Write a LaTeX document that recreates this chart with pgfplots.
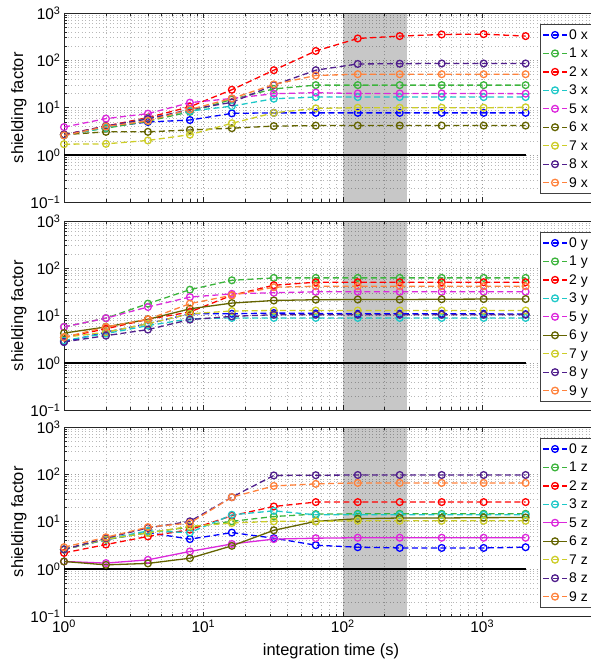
\documentclass[border=0pt]{standalone}
\usepackage{fontspec}
\setmainfont{Liberation Sans}
\usepackage{pgfplots}
\pgfplotsset{compat=1.18}
\definecolor{c0}{RGB}{0,0,255}
\definecolor{c1}{RGB}{60,180,60}
\definecolor{c2}{RGB}{255,0,0}
\definecolor{c3}{RGB}{30,200,200}
\definecolor{c5}{RGB}{220,40,220}
\definecolor{c6}{RGB}{100,100,0}
\definecolor{c7}{RGB}{205,205,40}
\definecolor{c8}{RGB}{80,30,140}
\definecolor{c9}{RGB}{255,130,60}
\newcommand{\tp}[1]{10\textsuperscript{#1}}
\pgfplotsset{
  legend image code/.code={\draw[mark repeat=2, mark phase=2, #1] plot coordinates {(0bp,0bp) (12bp,0bp) (24bp,0bp)};},
  dsh/.style={line width=1.3bp, mark size=3.4bp, dash pattern=on 6bp off 3.5bp, mark=o, mark options={solid}},
  sld/.style={line width=1.3bp, mark size=3.4bp, solid, mark=o, mark options={solid}},
  every axis/.append style={
    scale only axis, width=534bp, height=189.5bp,
    xmin=1, xmax=6772, ymin=0.1, ymax=1000,
    xtick={1,10,100,1000}, ytick={0.1,1,10,100,1000},
    yticklabels={\tp{−1},\tp{0},\tp{1},\tp{2},\tp{3}},
    grid=both,
    major grid style={black!38, line width=0.6bp, dash pattern=on 1bp off 2.5bp},
    minor grid style={black!28, line width=0.6bp, dash pattern=on 1bp off 2.5bp},
    tick align=inside,
    major tick length=5bp, minor tick length=3bp,
    axis line style={black!85, line width=0.9bp},
    tick style={black!85, line width=0.6bp},
    tick label style={font=\fontsize{15.5}{16}\selectfont},
    label style={font=\fontsize{16.5}{18}\selectfont},
    ylabel={shielding factor},
    ylabel style={at={(axis description cs:-0.0843,0.5)}, anchor=center},
    legend style={at={(axis description cs:0.8914,0.944)}, anchor=north west,
      draw=black!75, line width=0.7bp, fill=white,
      font=\fontsize{14}{15}\selectfont, cells={anchor=west},
      inner xsep=2bp, inner ysep=4bp, row sep=4.46bp, column sep=0bp,
      nodes={inner sep=1.5bp, text height=10bp, text depth=1bp}},
  },
}
\begin{document}
\begin{tikzpicture}[x=1bp,y=1bp]
\path[use as bounding box] (0,0) rectangle (591,661);
\clip (0,0) rectangle (591,661);
% ---------------- top panel (x)
\begin{loglogaxis}[at={(64bp,458.5bp)}, anchor=south west, xticklabels={}]
\addplot[fill=black, fill opacity=0.22, draw=none, forget plot] coordinates {(100,0.1) (100,1000) (290,1000) (290,0.1)};
\addplot[black, line width=1.5bp, forget plot] coordinates {(1,1) (2048,1)};
\addplot[c0, dsh] coordinates {(1,2.7) (2,3.9) (4,5.0) (8,5.5) (16,7.6) (32,7.8) (64,7.8) (128,7.8) (256,7.8) (512,7.8) (1024,7.8) (2048,7.8)};
\addplot[c1, dsh] coordinates {(1,2.7) (2,3.7) (4,5.2) (8,8.2) (16,15) (32,25) (64,30) (128,30) (256,30) (512,30) (1024,30) (2048,30)};
\addplot[c2, dsh] coordinates {(1,2.7) (2,4.1) (4,6.2) (8,10.5) (16,24) (32,62) (64,158) (128,290) (256,325) (512,352) (1024,358) (2048,325)};
\addplot[c3, dsh] coordinates {(1,2.6) (2,3.8) (4,6.0) (8,8.5) (16,10.8) (32,15.5) (64,16.8) (128,16.8) (256,16.8) (512,16.8) (1024,16.8) (2048,16.8)};
\addplot[c5, dsh] coordinates {(1,3.9) (2,5.9) (4,7.5) (8,12.8) (16,15.7) (32,19.8) (64,20.8) (128,20) (256,20) (512,20) (1024,20) (2048,19.8)};
\addplot[c6, dsh] coordinates {(1,2.7) (2,3.1) (4,3.1) (8,3.4) (16,3.7) (32,4.1) (64,4.2) (128,4.2) (256,4.2) (512,4.2) (1024,4.2) (2048,4.2)};
\addplot[c7, dsh] coordinates {(1,1.7) (2,1.73) (4,2.04) (8,2.7) (16,4.7) (32,7.8) (64,9.7) (128,10) (256,10) (512,10) (1024,10) (2048,10.2)};
\addplot[c8, dsh] coordinates {(1,2.7) (2,4.1) (4,5.8) (8,9.2) (16,13) (32,30) (64,62) (128,84) (256,85) (512,86) (1024,86) (2048,86)};
\addplot[c9, dsh] coordinates {(1,2.6) (2,4.0) (4,5.3) (8,9.2) (16,15.7) (32,31) (64,48) (128,51) (256,51) (512,51) (1024,51) (2048,51)};
\legend{0 x,1 x,2 x,3 x,5 x,6 x,7 x,8 x,9 x}
\end{loglogaxis}
% ---------------- middle panel (y)
\begin{loglogaxis}[at={(64bp,250.5bp)}, anchor=south west, xticklabels={}]
\addplot[fill=black, fill opacity=0.22, draw=none, forget plot] coordinates {(100,0.1) (100,1000) (290,1000) (290,0.1)};
\addplot[black, line width=1.5bp, forget plot] coordinates {(1,1) (2048,1)};
\addplot[c0, dsh] coordinates {(1,2.8) (2,4.5) (4,6.8) (8,11) (16,11) (32,11.4) (64,11.2) (128,11) (256,11) (512,11) (1024,11) (2048,10.8)};
\addplot[c1, dsh] coordinates {(1,5.8) (2,8.9) (4,18) (8,35.5) (16,56) (32,63) (64,63) (128,63) (256,63) (512,63) (1024,63) (2048,63)};
\addplot[c2, dsh] coordinates {(1,3.5) (2,5.3) (4,8.4) (8,12) (16,27) (32,44) (64,51) (128,51) (256,51) (512,51) (1024,51) (2048,51)};
\addplot[c3, dsh] coordinates {(1,3.0) (2,4.2) (4,6.2) (8,8.6) (16,9.0) (32,9.0) (64,9.0) (128,9.0) (256,9.0) (512,9.0) (1024,9.0) (2048,9.0)};
\addplot[c5, dsh] coordinates {(1,5.8) (2,8.9) (4,15.3) (8,24.8) (16,29) (32,30.6) (64,32) (128,32) (256,32) (512,32) (1024,32) (2048,32)};
\addplot[c6, sld] coordinates {(1,4.3) (2,5.8) (4,8.4) (8,14) (16,18.5) (32,21) (64,21.8) (128,22) (256,22) (512,22.3) (1024,22.5) (2048,22.5)};
\addplot[c7, dsh] coordinates {(1,3.5) (2,4.5) (4,6.8) (8,11) (16,12.6) (32,12.9) (64,12.9) (128,12.9) (256,12.9) (512,12.9) (1024,12.9) (2048,12.9)};
\addplot[c8, dsh] coordinates {(1,2.8) (2,3.8) (4,5.1) (8,8.3) (16,9.7) (32,10.5) (64,10.5) (128,10.5) (256,10.5) (512,10.5) (1024,10.5) (2048,10.5)};
\addplot[c9, dsh] coordinates {(1,3.5) (2,5.8) (4,8.4) (8,18) (16,27) (32,40) (64,42) (128,42) (256,42) (512,42) (1024,42) (2048,42)};
\legend{0 y,1 y,2 y,3 y,5 y,6 y,7 y,8 y,9 y}
\end{loglogaxis}
% ---------------- bottom panel (z)
\begin{loglogaxis}[at={(64bp,44.5bp)}, anchor=south west,
  xticklabels={\tp{0},\tp{1},\tp{2},\tp{3}},
  xlabel={integration time (s)},
  xlabel style={at={(axis description cs:0.5,0)}, anchor=base, yshift=-38.5bp}]
\addplot[fill=black, fill opacity=0.22, draw=none, forget plot] coordinates {(100,0.1) (100,1000) (290,1000) (290,0.1)};
\addplot[black, line width=1.5bp, forget plot] coordinates {(1,1) (2048,1)};
\addplot[c0, dsh] coordinates {(1,2.6) (2,4.2) (4,5.9) (8,4.3) (16,5.9) (32,4.5) (64,3.2) (128,2.9) (256,2.8) (512,2.8) (1024,2.8) (2048,2.9)};
\addplot[c1, dsh] coordinates {(1,2.6) (2,4.2) (4,5.9) (8,7.7) (16,10.2) (32,12.9) (64,14.5) (128,14.7) (256,14.7) (512,14.7) (1024,14.7) (2048,14.7)};
\addplot[c2, dsh] coordinates {(1,2.2) (2,3.3) (4,4.9) (8,6.8) (16,13.4) (32,21) (64,26) (128,26) (256,26) (512,26) (1024,26) (2048,26)};
\addplot[c3, dsh] coordinates {(1,2.6) (2,4.3) (4,6.4) (8,5.9) (16,14) (32,17) (64,14) (128,14) (256,14) (512,14) (1024,14) (2048,14)};
\addplot[c5, sld] coordinates {(1,1.45) (2,1.34) (4,1.57) (8,2.36) (16,3.4) (32,4.3) (64,4.5) (128,4.6) (256,4.6) (512,4.6) (1024,4.6) (2048,4.6)};
\addplot[c6, sld] coordinates {(1,1.45) (2,1.23) (4,1.32) (8,1.7) (16,3.1) (32,6.6) (64,10.2) (128,11.6) (256,12) (512,12) (1024,12.2) (2048,12.3)};
\addplot[c7, dsh] coordinates {(1,2.6) (2,4.3) (4,5.8) (8,8) (16,9.4) (32,10.2) (64,10.2) (128,10.5) (256,10.5) (512,10.5) (1024,10.5) (2048,10.5)};
\addplot[c8, dsh] coordinates {(1,2.6) (2,4.5) (4,7.4) (8,10.2) (16,33) (32,95) (64,96) (128,97) (256,97) (512,97) (1024,97) (2048,97)};
\addplot[c9, dsh] coordinates {(1,2.9) (2,4.7) (4,7.7) (8,9.4) (16,33) (32,57) (64,63) (128,66) (256,66) (512,66) (1024,66) (2048,66)};
\legend{0 z,1 z,2 z,3 z,5 z,6 z,7 z,8 z,9 z}
\end{loglogaxis}
\end{tikzpicture}
\end{document}
